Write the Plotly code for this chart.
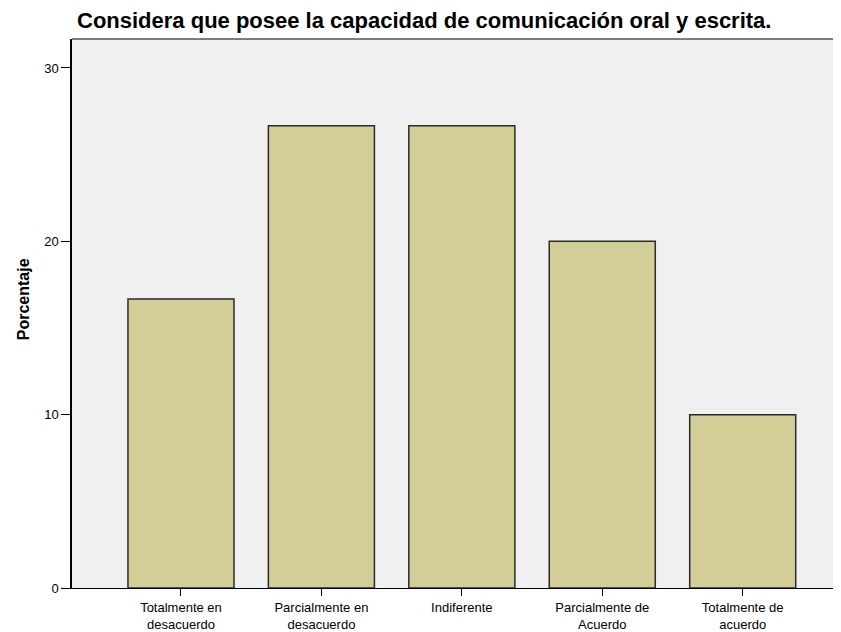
import plotly.graph_objects as go

categorias = ["Totalmente en<br>desacuerdo", "Parcialmente en<br>desacuerdo", "Indiferente",
              "Parcialmente de<br>Acuerdo", "Totalmente de<br>acuerdo"]
porcentajes = [16.67, 26.67, 26.67, 20.0, 10.0]

# la página añade 8 px de margen al cuerpo, se compensa aquí
W, H = 833, 624

fig = go.Figure()

fig.add_trace(go.Bar(
    x=list(range(len(categorias))),
    y=porcentajes,
    width=0.755,
    marker=dict(color='#D3CE97', line=dict(color='#2b2b2b', width=1.5)),
))

fig.update_layout(
    width=W, height=H,
    title=dict(
        text="<b>Considera que posee la capacidad de comunicación oral y escrita.</b>",
        x=69 / W, xanchor='left', y=1 - 12 / H, yanchor='middle',
        font=dict(family="Liberation Sans, Arial", size=22, color='black'),
    ),
    plot_bgcolor='#F0F0F0',
    paper_bgcolor='white',
    margin=dict(l=64, r=0, t=31, b=39),
    showlegend=False,
    font=dict(family="Liberation Sans, Arial", size=12, color='black'),
    xaxis=dict(
        range=[-0.776, 4.70],
        tickmode='array', tickvals=list(range(len(categorias))), ticktext=categorias,
        ticks='outside', ticklen=7, tickcolor='black', tickwidth=1,
        showline=True, linecolor='black', linewidth=1,
        showgrid=False, zeroline=False,
        tickfont=dict(size=13),
    ),
    yaxis=dict(
        range=[0, 31.67],
        tickvals=[0, 10, 20, 30],
        ticks='outside', ticklen=9, tickcolor='black', tickwidth=1,
        showline=True, linecolor='black', linewidth=1.5,
        showgrid=False, zeroline=False,
        tickfont=dict(size=13),
    ),
)

fig.add_annotation(
    text="<b>Porcentaje</b>", textangle=-90,
    xref='paper', yref='paper', x=-49 / 769, y=0.526,
    xanchor='center', yanchor='middle', showarrow=False,
    font=dict(family="Liberation Sans, Arial", size=16, color='black'),
)

# borde superior del área de trazado
fig.add_shape(type='line', xref='paper', yref='paper', x0=0, x1=1, y0=1, y1=1,
              line=dict(color='#555555', width=1.5))

fig.write_html("out.html")
